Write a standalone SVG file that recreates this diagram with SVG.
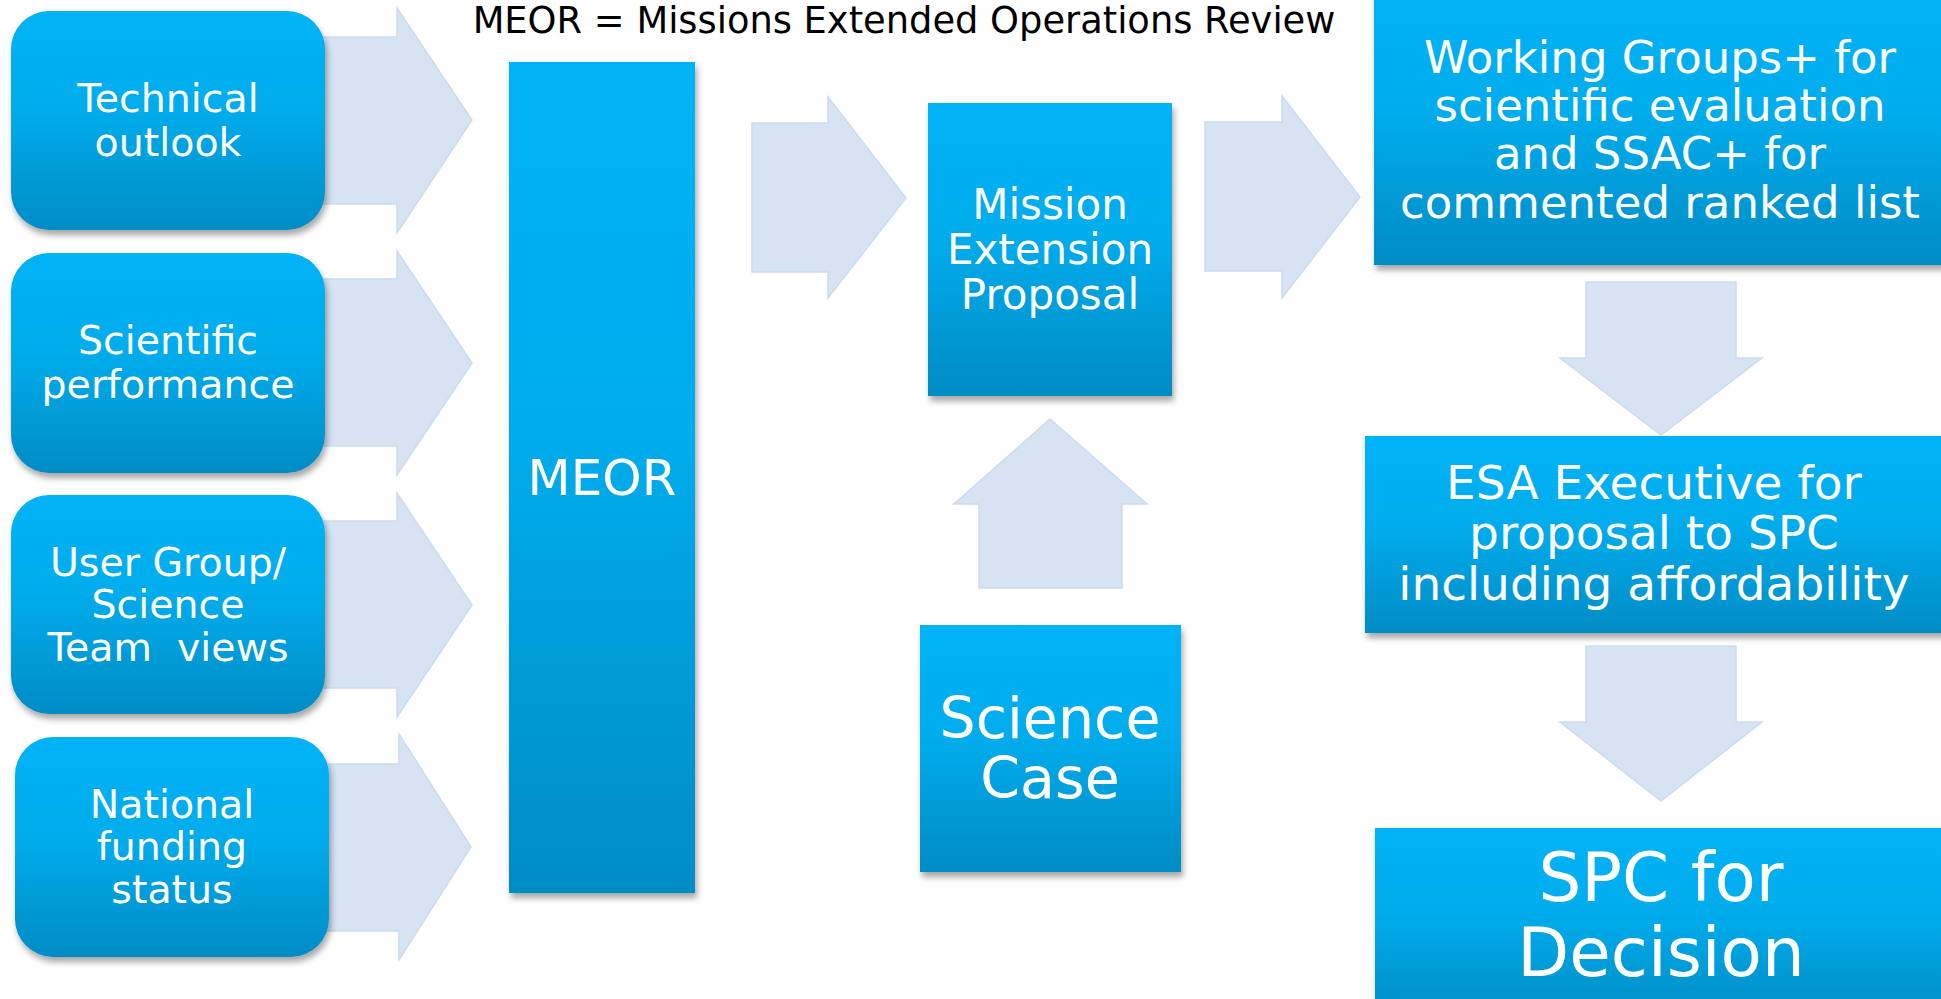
<svg xmlns="http://www.w3.org/2000/svg" width="1941" height="999" viewBox="0 0 1941 999">
<defs>
<linearGradient id="boxGrad" x1="0" y1="0" x2="0" y2="1">
<stop offset="0" stop-color="#00B3F6"/>
<stop offset="0.45" stop-color="#02ACEC"/>
<stop offset="1" stop-color="#008CC5"/>
</linearGradient>
<filter id="shadow" x="-10%" y="-10%" width="120%" height="125%">
<feDropShadow dx="2" dy="5" stdDeviation="3" flood-color="#000" flood-opacity="0.35"/>
</filter>
</defs>
<style>
.box{fill:url(#boxGrad);filter:url(#shadow);}
.arrow{fill:#D5E3F2;stroke:#CCDBEE;stroke-width:1.5;}
.t{font-family:"DejaVu Sans","Liberation Sans",sans-serif;fill:#FFFFFF;text-anchor:middle;}
.s{font-size:39.5px;}
.title{font-family:"DejaVu Sans","Liberation Sans",sans-serif;fill:#000000;text-anchor:middle;font-size:36.8px;}
</style>
<rect width="1941" height="999" fill="#FFFFFF"/>
<text class="title" x="904" y="33">MEOR = Missions Extended Operations Review</text>
<g id="connectors">
<polygon class="arrow" points="300,37 397,37 397,8 472,120 397,233 397,204 300,204"/>
<polygon class="arrow" points="300,279 397,279 397,251 472,363 397,475 397,446 300,446"/>
<polygon class="arrow" points="300,521 397,521 397,493 472,605 397,717 397,688 300,688"/>
<polygon class="arrow" points="300,764 399,764 399,734 471,847 399,960 399,931 300,931"/>
<polygon class="arrow" points="752,123 828,123 828,97 906,198 828,298 828,272 752,272"/>
<polygon class="arrow" points="1205,122 1282,122 1282,96 1360,197 1282,298 1282,271 1205,271"/>
<polygon class="arrow" points="979,588 979,504 954,504 1050,419 1147,504 1122,504 1122,588"/>
<polygon class="arrow" points="1586,282 1736,282 1736,358 1762,358 1661,435 1560,358 1586,358"/>
<polygon class="arrow" points="1586,646 1736,646 1736,722 1762,722 1661,801 1560,722 1586,722"/>
</g>
<g id="technical-outlook">
<rect class="box" x="11" y="11" width="314" height="219" rx="38"/>
<text class="t s" x="168" y="112">Technical</text>
<text class="t s" x="168" y="156">outlook</text>
</g>
<g id="scientific-performance">
<rect class="box" x="11" y="253" width="314" height="220" rx="38"/>
<text class="t s" x="168" y="354">Scientific</text>
<text class="t s" x="168" y="398">performance</text>
</g>
<g id="user-group">
<rect class="box" x="11" y="495" width="314" height="219" rx="38"/>
<text class="t s" x="168" y="576">User Group/</text>
<text class="t s" x="168" y="618">Science</text>
<text class="t s" x="168" y="661" xml:space="preserve">Team  views</text>
</g>
<g id="national-funding">
<rect class="box" x="15" y="737" width="314" height="220" rx="38"/>
<text class="t s" x="172" y="818">National</text>
<text class="t s" x="172" y="860">funding</text>
<text class="t s" x="172" y="903">status</text>
</g>
<g id="meor">
<rect class="box" x="509" y="62" width="186" height="831"/>
<text class="t" font-size="50" x="602" y="495">MEOR</text>
</g>
<g id="mission-extension-proposal">
<rect class="box" x="928" y="103" width="244" height="293"/>
<text class="t" font-size="42" x="1050" y="219">Mission</text>
<text class="t" font-size="42" x="1050" y="264">Extension</text>
<text class="t" font-size="42" x="1050" y="309">Proposal</text>
</g>
<g id="science-case">
<rect class="box" x="920" y="625" width="261" height="247"/>
<text class="t" font-size="57" x="1050" y="738">Science</text>
<text class="t" font-size="57" x="1050" y="798">Case</text>
</g>
<g id="working-groups">
<rect class="box" x="1374" y="-10" width="580" height="275"/>
<text class="t" font-size="45" x="1660" y="73">Working Groups+ for</text>
<text class="t" font-size="45" x="1660" y="121">scientific evaluation</text>
<text class="t" font-size="45" x="1660" y="169">and SSAC+ for</text>
<text class="t" font-size="45" x="1660" y="218">commented ranked list</text>
</g>
<g id="esa-executive">
<rect class="box" x="1365" y="436" width="590" height="197"/>
<text class="t" font-size="47" x="1654" y="499">ESA Executive for</text>
<text class="t" font-size="47" x="1654" y="549">proposal to SPC</text>
<text class="t" font-size="47" x="1654" y="600">including affordability</text>
</g>
<g id="spc-decision">
<rect class="box" x="1375" y="828" width="580" height="190"/>
<text class="t" font-size="67.5" x="1661" y="901">SPC for</text>
<text class="t" font-size="67.5" x="1661" y="976">Decision</text>
</g>
</svg>
